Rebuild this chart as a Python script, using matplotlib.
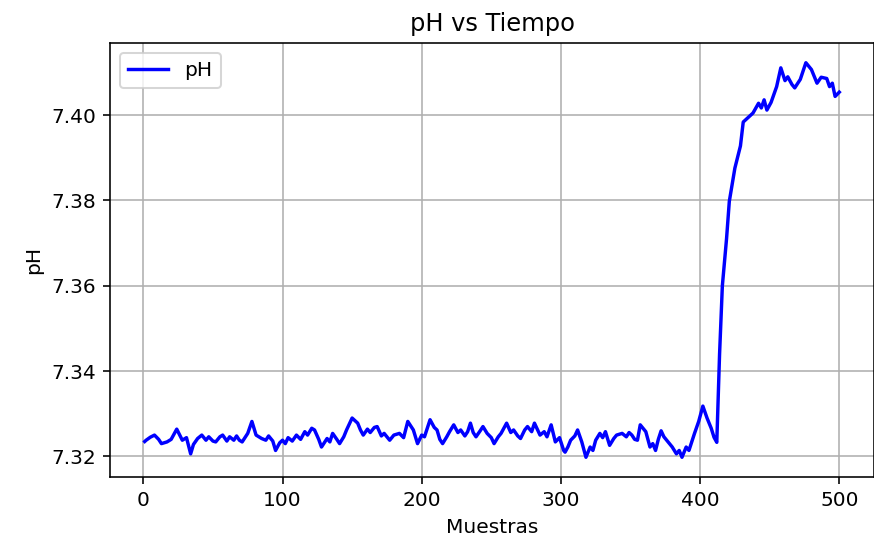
import numpy as np
import matplotlib
matplotlib.use('Agg')
import matplotlib.pyplot as plt

# samples and pH values
muestras = [1, 2, 5, 8, 11, 13, 17, 20, 24, 28, 31, 34, 36, 39, 42, 45, 47, 50, 52, 55, 57,
            60, 62, 65, 67, 69, 71, 75, 78, 81, 85, 88, 90, 93, 95, 98, 100, 102, 104, 107,
            110, 113, 116, 118, 121, 123, 126, 128, 132, 134, 136, 139, 141, 144, 146, 150,
            154, 156, 158, 161, 163, 166, 168, 171, 173, 177, 180, 184, 187, 190, 194, 197,
            200, 202, 206, 209, 211, 213, 215, 218, 220, 223, 226, 228, 231, 233, 235, 237,
            239, 242, 244, 247, 250, 252, 255, 257, 261, 264, 266, 269, 271, 274, 276, 279,
            281, 285, 288, 290, 293, 296, 299, 302, 303, 305, 307, 310, 312, 315, 318, 321,
            323, 325, 328, 330, 332, 335, 338, 340, 344, 347, 349, 351, 353, 355, 357, 361,
            364, 366, 368, 370, 372, 374, 376, 378, 380, 383, 385, 387, 390, 392, 394, 396,
            399, 402, 405, 408, 410, 412, 414, 416, 419, 421, 425, 429, 431, 435, 438, 442,
            444, 446, 448, 451, 455, 458, 461, 463, 466, 468, 472, 476, 480, 484, 487, 491,
            493, 495, 497, 500]
ph = [7.3235, 7.3238, 7.3245, 7.3250, 7.3240, 7.3230, 7.3234, 7.3240, 7.3264, 7.3238,
      7.3244, 7.3206, 7.3228, 7.3242, 7.3250, 7.3238, 7.3246, 7.3236, 7.3234, 7.3246,
      7.3250, 7.3236, 7.3246, 7.3238, 7.3248, 7.3238, 7.3234, 7.3254, 7.3282, 7.3250,
      7.3242, 7.3238, 7.3248, 7.3236, 7.3214, 7.3232, 7.3238, 7.3230, 7.3244, 7.3236,
      7.3250, 7.3240, 7.3258, 7.3250, 7.3266, 7.3262, 7.3240, 7.3222, 7.3242, 7.3234,
      7.3254, 7.3240, 7.3230, 7.3246, 7.3262, 7.3290, 7.3278, 7.3262, 7.3250, 7.3264,
      7.3256, 7.3268, 7.3270, 7.3248, 7.3254, 7.3238, 7.3250, 7.3254, 7.3244, 7.3282,
      7.3262, 7.3230, 7.3250, 7.3246, 7.3286, 7.3268, 7.3262, 7.3240, 7.3230, 7.3246,
      7.3258, 7.3274, 7.3256, 7.3262, 7.3248, 7.3258, 7.3278, 7.3256, 7.3246, 7.3260,
      7.3270, 7.3254, 7.3244, 7.3230, 7.3246, 7.3254, 7.3278, 7.3256, 7.3262, 7.3248,
      7.3242, 7.3262, 7.3270, 7.3258, 7.3278, 7.3250, 7.3258, 7.3246, 7.3274, 7.3234,
      7.3244, 7.3214, 7.3210, 7.3222, 7.3238, 7.3248, 7.3262, 7.3234, 7.3198, 7.3222,
      7.3214, 7.3238, 7.3254, 7.3244, 7.3258, 7.3226, 7.3242, 7.3250, 7.3254, 7.3246,
      7.3256, 7.3250, 7.3240, 7.3238, 7.3274, 7.3258, 7.3222, 7.3230, 7.3214, 7.3240,
      7.3260, 7.3246, 7.3238, 7.3230, 7.3222, 7.3206, 7.3214, 7.3198, 7.3222, 7.3214,
      7.3234, 7.3254, 7.3282, 7.3318, 7.3290, 7.3266, 7.3245, 7.3233, 7.3440, 7.3600,
      7.3710, 7.3798, 7.3876, 7.3928, 7.3984, 7.3996, 7.4005, 7.4028, 7.4017, 7.4036,
      7.4012, 7.4030, 7.4067, 7.4111, 7.4081, 7.4090, 7.4072, 7.4064, 7.4084, 7.4123,
      7.4107, 7.4075, 7.4089, 7.4086, 7.4067, 7.4075, 7.4044, 7.4054]

fig = plt.figure(figsize=(874/145, 548/145), dpi=145)
ax = fig.add_axes([110/874, 71/548, 764/874, 434/548])

ax.plot(muestras, ph, color='b', lw=1.7, label='pH')
ax.set_title('pH vs Tiempo')
ax.set_xlabel('Muestras')
ax.set_ylabel('pH')
ax.set_xticks([0, 100, 200, 300, 400, 500])
ax.set_yticks([7.32, 7.34, 7.36, 7.38, 7.40])
ax.grid(True)
ax.legend(loc='upper left')

fig.savefig('out.png', dpi=145)
